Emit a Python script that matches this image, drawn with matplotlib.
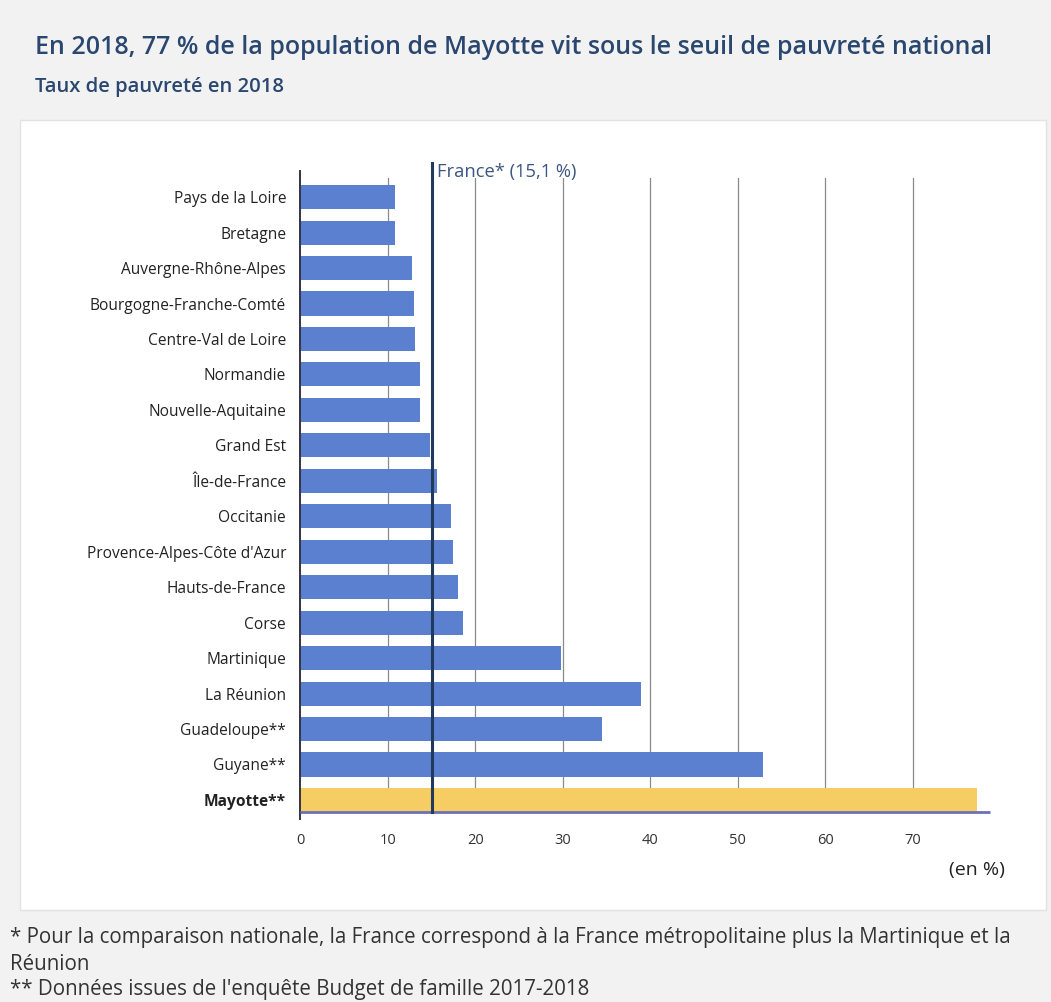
import matplotlib
matplotlib.use("Agg")
import matplotlib.pyplot as plt
from matplotlib.patches import Rectangle

regions = ["Pays de la Loire", "Bretagne", "Auvergne-Rhône-Alpes", "Bourgogne-Franche-Comté",
           "Centre-Val de Loire", "Normandie", "Nouvelle-Aquitaine", "Grand Est", "Île-de-France",
           "Occitanie", "Provence-Alpes-Côte d'Azur", "Hauts-de-France", "Corse", "Martinique",
           "La Réunion", "Guadeloupe**", "Guyane**", "Mayotte**"]
taux = [10.9, 10.9, 12.8, 13.0, 13.1, 13.7, 13.7, 14.9, 15.6, 17.2, 17.5, 18.0, 18.6,
        29.8, 38.9, 34.5, 52.9, 77.3]
france = 15.1
xticks = [0, 10, 20, 30, 40, 50, 60, 70]

plt.rcParams['font.family'] = ['Open Sans', 'DejaVu Sans']

W, H = 1051, 1002
fig = plt.figure(figsize=(W/100, H/100), dpi=100)
fig.patch.set_facecolor('#f2f2f2')

# white panel
fig.patches.append(Rectangle((20/W, 1-910/H), (1046-20)/W, (910-120)/H, transform=fig.transFigure,
                             facecolor='white', edgecolor='#e2e2e2', lw=1, zorder=-5))

ax = fig.add_axes([300/W, 1-812/H, (990-300)/W, (812-178)/H])
ax.set_zorder(3)
ax.set_facecolor('none')
n = len(regions)
ypos = list(range(n))
colors = ['#5b80cf'] * (n-1) + ['#f6cd62']
ax.barh(ypos, taux, height=0.68, color=colors, zorder=2)
ax.set_xlim(0, 78.8)
ax.set_ylim(n - 1 + 0.34, -0.54)

for t in xticks[1:]:
    ax.axvline(t, color='#8a8a8a', lw=0.9, zorder=1)
for s in ax.spines.values():
    s.set_visible(False)
ax.plot([0, 0], [-0.75, n - 1 + 0.55], color='#333344', lw=1.4, zorder=3, clip_on=False)
ax.plot([0, 78.8], [n - 1 + 0.34, n - 1 + 0.34], color='#6c70b8', lw=2, zorder=3, clip_on=False,
        solid_capstyle='butt')
ax.plot([france, france], [-0.97, n - 1 + 0.34], color='#22395e', lw=2.2, zorder=4, clip_on=False)
ax.text(france + 0.5, -0.7, 'France* (15,1 %)', color='#3c5680', fontsize=13.2, va='center', ha='left')

ax.set_xticks(xticks)
ax.set_xticklabels([str(t) for t in xticks], fontsize=10.5, color='#333333')
ax.tick_params(axis='x', length=0, pad=15)
ax.set_yticks(ypos)
ax.set_yticklabels(regions, fontsize=11.2, color='#222222')
ax.tick_params(axis='y', length=0, pad=10)
ax.get_yticklabels()[-1].set_fontweight('bold')

fig.text(1005/W, 1-870/H, '(en %)', fontsize=14, color='#222222', ha='right', va='center')

fig.text(35/W, 1-48/H, 'En 2018, 77 % de la population de Mayotte vit sous le seuil de pauvreté national',
         fontsize=18, fontweight='semibold', color='#2a4770', ha='left', va='center')
fig.text(35/W, 1-87/H, 'Taux de pauvreté en 2018', fontsize=14.6, fontweight='semibold',
         color='#2a4770', ha='left', va='center')

fig.text(10/W, 1-937/H, '* Pour la comparaison nationale, la France correspond à la France métropolitaine plus la Martinique et la',
         fontsize=14.8, color='#333333', ha='left', va='center')
fig.text(10/W, 1-964/H, 'Réunion', fontsize=14.8, color='#333333', ha='left', va='center')
fig.text(10/W, 1-990/H, "** Données issues de l'enquête Budget de famille 2017-2018",
         fontsize=14.8, color='#333333', ha='left', va='center')

fig.savefig('out.png', dpi=100, facecolor=fig.get_facecolor())
